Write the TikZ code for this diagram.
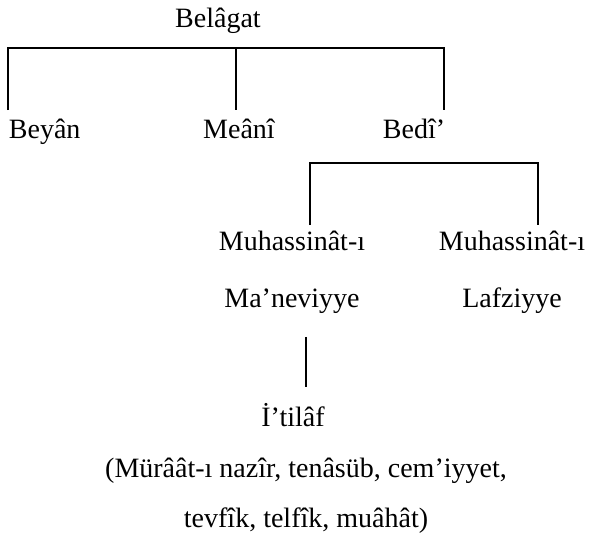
\documentclass[tikz,border=0pt]{standalone}
\usepackage{fontspec}
\setmainfont{Liberation Serif}

\begin{document}
\begin{tikzpicture}[x=1pt,y=-1pt,line width=1.8pt,
        lbl/.style={inner sep=0pt,anchor=base,align=center,font=\fontsize{28}{57}\selectfont}]
        \useasboundingbox (0,0) rectangle (590,541);

        \node[lbl] (t0) at (218,27) {Belâgat};
        \node[lbl,anchor=base west] (t1) at (8,138) {Beyân};
        \node[lbl] (t2) at (239,138) {Meânî};
        \node[lbl,anchor=base east] (t3) at (446,138) {Bedî’};
        \node[lbl] (t4) at (292,307) {Muhassinât-ı\\Ma’neviyye};
        \node[lbl] (t5) at (512,307) {Muhassinât-ı\\Lafziyye};
        \node[lbl] (t6) at (293,426) {İ’tilâf};
        \node[lbl,font=\fontsize{28}{50}\selectfont] (t7) at (306,527) {(Mürâât-ı nazîr, tenâsüb, cem’iyyet,\\tevfîk, telfîk, muâhât)};

        \coordinate (j0) at (236,48);
        \coordinate (j1) at (424,163);

        \draw ([yshift=28pt]t1.base west) |- (j0) -| ([xshift=-2pt,yshift=28pt]t3.base east);
        \draw (j0) -- ([xshift=-3pt,yshift=28pt]t2.base);
        \draw ([xshift=18pt,yshift=82pt]t4.base) |- (j1) -| ([xshift=26pt,yshift=82pt]t5.base);
        \draw ([xshift=14pt,yshift=-23pt]t4.south) -- ([xshift=13pt,yshift=39pt]t6.base);
\end{tikzpicture}
\end{document}
